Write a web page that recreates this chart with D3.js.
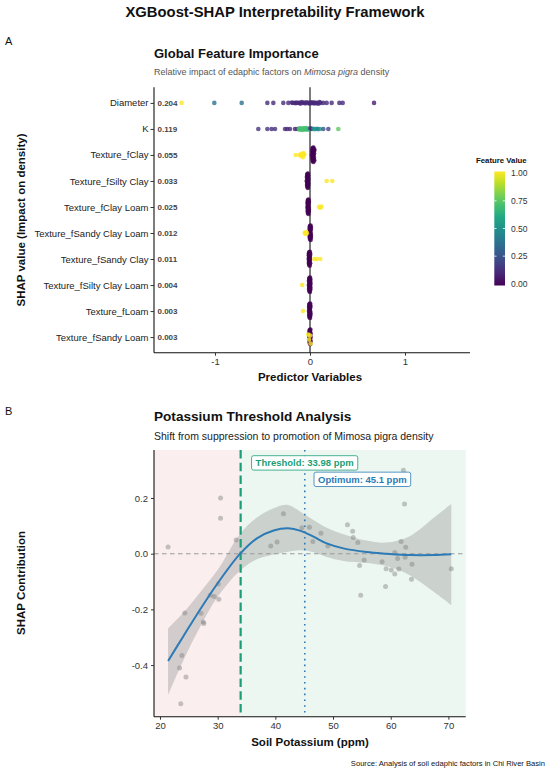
<!DOCTYPE html>
<html>
<head>
<meta charset="utf-8">
<script src="https://cdn.jsdelivr.net/npm/d3@7"></script>
<style>
  body { margin: 0; background: #fff; }
  svg text { font-family: "Liberation Sans", Arial, sans-serif; }
</style>
</head>
<body>
<div id="chart"></div>
<script>
// ---------- panel A data ----------
const features = ["Diameter", "K", "Texture_fClay", "Texture_fSilty Clay", "Texture_fClay Loam",
  "Texture_fSandy Clay Loam", "Texture_fSandy Clay", "Texture_fSilty Clay Loam", "Texture_fLoam", "Texture_fSandy Loam"];
const meanAbsShap = [0.204, 0.119, 0.055, 0.033, 0.025, 0.012, 0.011, 0.004, 0.003, 0.003];

// [shap, feature value]
const shapDiameter = [[-1.351, 1.0], [-1.007, 0.38], [-0.719, 0.38], [-0.449, 0.12], [-0.386, 0.12], [-0.281, 0.12],
  [-0.228, 0.12], [-0.193, 0.12], [-0.18, 0.1], [-0.168, 0.12], [-0.15, 0.12], [-0.14, 0.1], [-0.12, 0.12],
  [-0.112, 0.12], [-0.1, 0.1], [-0.088, 0.12], [-0.075, 0.12], [-0.063, 0.12], [-0.05, 0.1], [-0.035, 0.12],
  [-0.02, 0.12], [-0.007, 0.12], [0.0, 0.1], [0.01, 0.12], [0.018, 0.12], [0.03, 0.12], [0.042, 0.12],
  [0.05, 0.1], [0.063, 0.12], [0.075, 0.12], [0.088, 0.12], [0.1, 0.12], [0.112, 0.12], [0.14, 0.12],
  [0.175, 0.12], [0.228, 0.12], [0.309, 0.12], [0.344, 0.12], [0.674, 0.08]];
const shapK = [[-0.544, 0.15], [-0.449, 0.15], [-0.404, 0.12], [-0.368, 0.15], [-0.263, 0.12], [-0.239, 0.1],
  [-0.211, 0.12], [-0.158, 0.1], [-0.133, 0.12], [-0.118, 0.7], [-0.108, 0.72], [-0.1, 0.7], [-0.092, 0.7],
  [-0.085, 0.72], [-0.075, 0.7], [-0.068, 0.7], [-0.06, 0.72], [-0.05, 0.7], [-0.042, 0.68], [-0.035, 0.72],
  [-0.028, 0.7], [-0.018, 0.68], [-0.01, 0.66], [0.005, 0.12], [0.018, 0.08], [0.035, 0.5], [0.05, 0.55],
  [0.07, 0.5], [0.085, 0.45], [0.105, 0.55], [0.14, 0.25], [0.193, 0.2], [0.298, 0.75]];

// texture dummies: SHAP of samples with value 0 and value 1
const clayZero = [0.019, 0.022, 0.024, 0.025, 0.027, 0.028, 0.029, 0.03, 0.031, 0.031, 0.032, 0.033, 0.034,
  0.034, 0.035, 0.036, 0.037, 0.038, 0.039, 0.04, 0.041, 0.043, 0.045, 0.047];
const clayOne = [-0.15, -0.11, -0.098, -0.09, -0.085, -0.08, -0.075, -0.07, -0.066, -0.06];
const siltyClayZero = [-0.035, -0.033, -0.031, -0.03, -0.029, -0.028, -0.027, -0.027, -0.026, -0.025, -0.025,
  -0.024, -0.023, -0.023, -0.022, -0.021, -0.021, -0.02, -0.02, -0.019, -0.018, -0.018];
const siltyClayOne = [0.175, 0.235];
const clayLoamZero = [-0.028, -0.027, -0.025, -0.024, -0.023, -0.022, -0.022, -0.021, -0.02, -0.02, -0.019,
  -0.018, -0.018, -0.017, -0.016, -0.016, -0.015, -0.014, -0.013, -0.012, -0.012];
const clayLoamOne = [0.095, 0.108, 0.122];
const sandyClayLoamZero = [-0.006, -0.005, -0.004, -0.003, -0.002, -0.001, 0.0, 0.0, 0.001, 0.002, 0.003,
  0.003, 0.004, 0.005, 0.006, 0.006, 0.007, 0.008, 0.009, 0.01, 0.01];
const sandyClayLoamOne = [-0.056, -0.048, -0.04, -0.033];
const sandyClayZero = [-0.014, -0.013, -0.012, -0.011, -0.01, -0.009, -0.009, -0.008, -0.007, -0.006, -0.006,
  -0.005, -0.004, -0.003, -0.003, -0.002, -0.001, 0.0, 0.001, 0.002];
const sandyClayOne = [0.045, 0.07, 0.108];
const siltyClayLoamZero = [-0.012, -0.011, -0.01, -0.009, -0.008, -0.007, -0.007, -0.006, -0.005, -0.004,
  -0.004, -0.003, -0.002, -0.001, -0.001, 0.0, 0.001, 0.002, 0.003, 0.004, 0.004, 0.005];
const siltyClayLoamOne = [-0.082];
const loamZero = [-0.011, -0.01, -0.009, -0.008, -0.007, -0.007, -0.006, -0.005, -0.004, -0.004, -0.003,
  -0.002, -0.001, -0.001, 0.0, 0.001, 0.002, 0.003, 0.003, 0.004, 0.005];
const loamOne = [-0.074];
const sandyLoamZero = [-0.008, -0.007, -0.006, -0.005, -0.004, -0.004, -0.003, -0.002, -0.001, 0.0, 0.0,
  0.001, 0.002, 0.003, 0.003, 0.004, 0.005, 0.006, 0.006];
const sandyLoamOne = [-0.018, -0.01, 0.0, 0.006];

const legendTicks = [0, 0.25, 0.5, 0.75, 1];
const xTicksA = [-1, 0, 1];

// ---------- panel B data ----------
const potassium = [21.4, 30.5, 30.5, 33.2, 30.1, 28.7, 29.4, 30.2, 24.3, 27.1, 27.5, 27.6, 23.8, 23.4, 24.5, 23.6,
  41.4, 39.2, 40.3, 44.6, 45.9, 46.5, 47.9, 49.1, 52.5, 53.4, 53.5, 54.3, 55.4, 54.6, 54.8, 58.5, 59.2, 59.1,
  60.1, 60.7, 61.4, 60.7, 61.2, 61.8, 62.6, 62.5, 63.7, 63.6, 62.2, 62.4, 70.5];
const shapPotassium = [0.024, 0.2, 0.127, 0.049, -0.109, -0.149, -0.154, -0.164, -0.213, -0.214, -0.245, -0.251,
  -0.366, -0.41, -0.443, -0.539, 0.143, 0.028, 0.042, 0.093, 0.095, 0.044, 0.073, 0.028, 0.104, 0.081, 0.058,
  0.04, -0.023, -0.042, -0.149, -0.029, -0.054, -0.118, -0.059, -0.073, -0.055, 0.004, -0.017, 0.044, 0.023,
  -0.013, -0.038, -0.092, 0.3, 0.178, -0.054];

// loess fit
const smoothK = [21.4, 24.0, 26.9, 30.0, 33.9, 36.8, 39.7, 42.2, 44.4, 46.6, 48.9, 51.8, 55.8, 59.3, 63.3, 67.4, 70.5];
const smoothFit = [-0.385, -0.298, -0.202, -0.106, 0.0, 0.055, 0.083, 0.091, 0.082, 0.061, 0.037, 0.019, 0.006, 0.0, -0.005, -0.005, -0.002];
const smoothLo = [-0.507, -0.385, -0.265, -0.155, -0.06, -0.02, -0.003, 0.007, 0.012, 0.005, -0.012, -0.026, -0.033, -0.044, -0.077, -0.136, -0.185];
const smoothHi = [-0.268, -0.213, -0.14, -0.058, 0.072, 0.13, 0.163, 0.175, 0.15, 0.121, 0.093, 0.07, 0.047, 0.04, 0.063, 0.128, 0.178];

const threshold = 33.98;
const optimum = 45.1;
const xTicksB = [20, 30, 40, 50, 60, 70];
const yTicksB = [-0.4, -0.2, 0.0, 0.2];

// ---------- setup ----------
const width = 550, height = 771;
const svg = d3.select("#chart").append("svg")
  .attr("width", width)
  .attr("height", height);

const green = "#1b9e77";
const blue = "#2c7bb6";
// plain hyphen for negatives, like the original
const hyphen = f => d => f(d).replace("\u2212", "-");

svg.append("text")
  .attr("x", 275).attr("y", 17)
  .attr("text-anchor", "middle")
  .attr("font-size", 14.8).attr("font-weight", "bold").attr("fill", "#111")
  .text("XGBoost-SHAP Interpretability Framework");

svg.append("text").attr("x", 5).attr("y", 45).attr("font-size", 11).attr("fill", "#111").text("A");
svg.append("text").attr("x", 5).attr("y", 415).attr("font-size", 11).attr("fill", "#111").text("B");

// ================= Panel A =================
const x = d3.scaleLinear().domain([-1.642, 1.684]).range([154, 470]);
const y = d3.scalePoint().domain(features).range([87.3, 352.7]).padding(0.6);
const color = d3.scaleSequential(d3.interpolateViridis).domain([0, 1]);

svg.append("text")
  .attr("x", 154).attr("y", 57.5)
  .attr("font-size", 13).attr("font-weight", "bold").attr("fill", "#111")
  .text("Global Feature Importance");

const sub = svg.append("text")
  .attr("x", 154).attr("y", 75)
  .attr("font-size", 9).attr("fill", "#555");
sub.append("tspan").text("Relative impact of edaphic factors on ");
sub.append("tspan").attr("font-style", "italic").text("Mimosa pigra");
sub.append("tspan").text(" density");

// zero reference
svg.append("line")
  .attr("x1", x(0)).attr("x2", x(0))
  .attr("y1", 87.3).attr("y2", 352.7)
  .attr("stroke", "#111").attr("stroke-width", 1.1);

// build rows
const toPts = (zero, one) => zero.map(s => [s, 0]).concat(one.map(s => [s, 1]));
const rows = [
  shapDiameter,
  shapK,
  toPts(clayZero, clayOne),
  toPts(siltyClayZero, siltyClayOne),
  toPts(clayLoamZero, clayLoamOne),
  toPts(sandyClayLoamZero, sandyClayLoamOne),
  toPts(sandyClayZero, sandyClayOne),
  toPts(siltyClayLoamZero, siltyClayLoamOne),
  toPts(loamZero, loamOne),
  toPts(sandyLoamZero, sandyLoamOne)
];

function vdc(n) {
  let v = 0, d = 1;
  while (n > 0) { d *= 2; v += (n % 2) / d; n = Math.floor(n / 2); }
  return v;
}

const beePts = [];
rows.forEach((pts, r) => {
  const sx = pts.map(p => x(p[0]));
  pts.forEach((p, i) => {
    const n = sx.filter(s => Math.abs(s - sx[i]) < 1.6).length;
    const spread = Math.min(8, 0.4 * (n - 1));
    beePts.push({
      cx: sx[i],
      cy: y(features[r]) + spread * (2 * vdc(i + 1) - 1),
      v: p[1]
    });
  });
});

svg.append("g")
  .selectAll("circle")
  .data(beePts)
  .join("circle")
    .attr("cx", d => d.cx)
    .attr("cy", d => d.cy)
    .attr("r", 2.3)
    .attr("fill", d => color(d.v))
    .attr("fill-opacity", 0.8);

// mean |SHAP| labels
svg.append("g")
  .selectAll("text")
  .data(features)
  .join("text")
    .attr("x", 157.5)
    .attr("y", d => y(d) + 3)
    .attr("font-size", 8).attr("font-weight", "bold").attr("fill", "#444")
    .text((d, i) => meanAbsShap[i].toFixed(3));

// axes
svg.append("g")
  .attr("transform", "translate(154,0)")
  .call(d3.axisLeft(y).tickSize(3.5).tickPadding(2))
  .call(g => g.select(".domain").attr("stroke", "#111").attr("stroke-width", 1.1).attr("d", "M0,87.3V352.7"))
  .call(g => g.selectAll(".tick line").attr("stroke", "#333"))
  .call(g => g.selectAll(".tick text").attr("font-size", 9.5).attr("fill", "#222"));

svg.append("g")
  .attr("transform", "translate(0,352.7)")
  .call(d3.axisBottom(x).tickValues(xTicksA).tickFormat(hyphen(d3.format("d"))).tickSize(3).tickPadding(3))
  .call(g => g.select(".domain").attr("stroke", "#111").attr("stroke-width", 1.1).attr("d", "M154,0H470"))
  .call(g => g.selectAll(".tick line").attr("stroke", "#333"))
  .call(g => g.selectAll(".tick text").attr("font-size", 9.5).attr("fill", "#333"));

svg.append("text")
  .attr("x", 310).attr("y", 380.5)
  .attr("text-anchor", "middle")
  .attr("font-size", 11.5).attr("font-weight", "bold").attr("fill", "#111")
  .text("Predictor Variables");

svg.append("text")
  .attr("transform", "translate(25,220) rotate(-90)")
  .attr("text-anchor", "middle")
  .attr("font-size", 11.5).attr("font-weight", "bold").attr("fill", "#111")
  .text("SHAP value (Impact on density)");

// legend
const defs = svg.append("defs");
const grad = defs.append("linearGradient")
  .attr("id", "viridis")
  .attr("x1", "0%").attr("x2", "0%").attr("y1", "100%").attr("y2", "0%");
d3.range(0, 1.0001, 0.1).forEach(t => {
  grad.append("stop").attr("offset", `${t * 100}%`).attr("stop-color", color(t));
});

const legY = d3.scaleLinear().domain([0, 1]).range([283.8, 173.2]);
svg.append("text")
  .attr("x", 476).attr("y", 163)
  .attr("font-size", 7.8).attr("font-weight", "bold").attr("fill", "#111")
  .text("Feature Value");
svg.append("rect")
  .attr("x", 494.3).attr("y", 171.5)
  .attr("width", 10.7).attr("height", 114)
  .attr("fill", "url(#viridis)");
const legTick = svg.append("g")
  .selectAll("g")
  .data(legendTicks)
  .join("g");
legTick.filter(d => d > 0 && d < 1).append("line")
  .attr("x1", 494.3).attr("x2", 496.5)
  .attr("y1", d => legY(d)).attr("y2", d => legY(d))
  .attr("stroke", "#fff").attr("stroke-width", 0.8);
legTick.filter(d => d > 0 && d < 1).append("line")
  .attr("x1", 502.8).attr("x2", 505)
  .attr("y1", d => legY(d)).attr("y2", d => legY(d))
  .attr("stroke", "#fff").attr("stroke-width", 0.8);
legTick.append("text")
  .attr("x", 511)
  .attr("y", d => legY(d) + 3)
  .attr("font-size", 8.5).attr("fill", "#333")
  .text(d => d.toFixed(2));

// ================= Panel B =================
const xb = d3.scaleLinear().domain([18.96, 73.0]).range([154, 465.7]);
const yb = d3.scaleLinear().domain([-0.5853, 0.3723]).range([716.7, 450]);

svg.append("text")
  .attr("x", 154).attr("y", 421)
  .attr("font-size", 13.6).attr("font-weight", "bold").attr("fill", "#111")
  .text("Potassium Threshold Analysis");
svg.append("text")
  .attr("x", 154).attr("y", 440)
  .attr("font-size", 10.5).attr("fill", "#222")
  .text("Shift from suppression to promotion of Mimosa pigra density");

// zones
svg.append("rect")
  .attr("x", xb.range()[0]).attr("y", 450)
  .attr("width", xb(threshold) - xb.range()[0]).attr("height", 716.7 - 450)
  .attr("fill", "#fbeeee");
svg.append("rect")
  .attr("x", xb(threshold)).attr("y", 450)
  .attr("width", xb.range()[1] - xb(threshold)).attr("height", 716.7 - 450)
  .attr("fill", "#edf7f1");

// zero line
svg.append("line")
  .attr("x1", xb.range()[0]).attr("x2", xb.range()[1])
  .attr("y1", yb(0)).attr("y2", yb(0))
  .attr("stroke", "#999").attr("stroke-width", 1.1).attr("stroke-dasharray", "4.5,3.5");

// confidence band
const band = smoothK.map((k, i) => ({k: k, lo: smoothLo[i], hi: smoothHi[i], fit: smoothFit[i]}));
svg.append("path")
  .datum(band)
  .attr("fill", "#999")
  .attr("fill-opacity", 0.4)
  .attr("d", d3.area()
    .x(d => xb(d.k))
    .y0(d => yb(d.lo))
    .y1(d => yb(d.hi))
    .curve(d3.curveCatmullRom));

// points
svg.append("g")
  .selectAll("circle")
  .data(potassium)
  .join("circle")
    .attr("cx", d => xb(d))
    .attr("cy", (d, i) => yb(shapPotassium[i]))
    .attr("r", 2.5)
    .attr("fill", "#808080")
    .attr("fill-opacity", 0.45);

// threshold & optimum lines
svg.append("line")
  .attr("x1", xb(threshold)).attr("x2", xb(threshold))
  .attr("y1", 450).attr("y2", 716.7)
  .attr("stroke", green).attr("stroke-width", 2.2).attr("stroke-dasharray", "8.5,4.2");
svg.append("line")
  .attr("x1", xb(optimum)).attr("x2", xb(optimum))
  .attr("y1", 450).attr("y2", 716.7)
  .attr("stroke", blue).attr("stroke-width", 1.6).attr("stroke-dasharray", "1.6,4.2");

// smooth line
svg.append("path")
  .datum(band)
  .attr("fill", "none")
  .attr("stroke", blue)
  .attr("stroke-width", 2)
  .attr("d", d3.line()
    .x(d => xb(d.k))
    .y(d => yb(d.fit))
    .curve(d3.curveCatmullRom));

// labels
function addLabel(xv, yv, txt, col) {
  const g = svg.append("g");
  const t = g.append("text")
    .attr("x", xb(xv) + 4).attr("y", yb(yv) + 3.4)
    .attr("font-size", 9.5).attr("font-weight", "bold").attr("fill", col)
    .text(txt);
  const bb = t.node().getBBox();
  g.insert("rect", "text")
    .attr("x", xb(xv)).attr("y", yb(yv) - 7.2)
    .attr("width", bb.width + 8).attr("height", 14.4)
    .attr("rx", 2).attr("ry", 2)
    .attr("fill", "#fff").attr("fill-opacity", 0.92)
    .attr("stroke", col).attr("stroke-width", 0.8);
}
addLabel(threshold + 1.9, 0.326, `Threshold: ${threshold} ppm`, green);
addLabel(optimum + 1.6, 0.267, `Optimum: ${optimum} ppm`, blue);

// axes
svg.append("g")
  .attr("transform", "translate(0,716.7)")
  .call(d3.axisBottom(xb).tickValues(xTicksB).tickSize(3).tickPadding(3))
  .call(g => g.select(".domain").attr("stroke", "#111").attr("stroke-width", 1.1).attr("d", "M154,0H465.7"))
  .call(g => g.selectAll(".tick line").attr("stroke", "#333"))
  .call(g => g.selectAll(".tick text").attr("font-size", 9.5).attr("fill", "#333"));

svg.append("g")
  .attr("transform", "translate(154,0)")
  .call(d3.axisLeft(yb).tickValues(yTicksB).tickFormat(hyphen(d3.format(".1f"))).tickSize(3).tickPadding(3))
  .call(g => g.select(".domain").attr("stroke", "#111").attr("stroke-width", 1.1).attr("d", "M0,450V716.7"))
  .call(g => g.selectAll(".tick line").attr("stroke", "#333"))
  .call(g => g.selectAll(".tick text").attr("font-size", 9.5).attr("fill", "#333"));

svg.append("text")
  .attr("x", 310).attr("y", 746)
  .attr("text-anchor", "middle")
  .attr("font-size", 11.5).attr("font-weight", "bold").attr("fill", "#111")
  .text("Soil Potassium (ppm)");

svg.append("text")
  .attr("transform", "translate(25,583) rotate(-90)")
  .attr("text-anchor", "middle")
  .attr("font-size", 11.5).attr("font-weight", "bold").attr("fill", "#111")
  .text("SHAP Contribution");

svg.append("text")
  .attr("x", 545).attr("y", 766)
  .attr("text-anchor", "end")
  .attr("font-size", 7.6).attr("fill", "#111")
  .text("Source: Analysis of soil edaphic factors in Chi River Basin");
</script>
</body>
</html>
